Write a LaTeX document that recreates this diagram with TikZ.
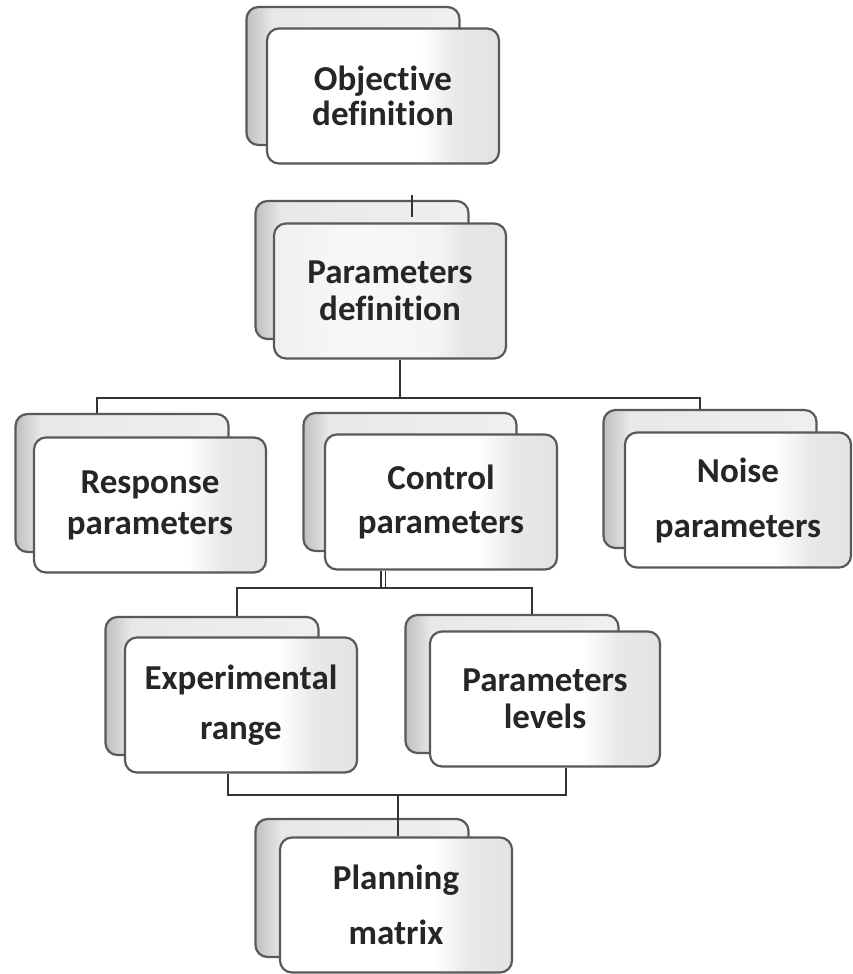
\documentclass[tikz,border=0pt]{standalone}
\usepackage{fontspec}
\setmainfont{Carlito}[Ligatures=NoCommon]
\pgfdeclarehorizontalshading{backshade}{100bp}{color(0bp)=(gray!50); color(25bp)=(gray!50); color(31bp)=(gray!18); color(75bp)=(gray!12); color(100bp)=(gray!12)}
\pgfdeclarehorizontalshading{frontshade}{100bp}{color(0bp)=(white); color(25bp)=(white); color(58bp)=(white); color(66bp)=(gray!18); color(75bp)=(gray!22); color(100bp)=(gray!22)}
\pgfdeclarehorizontalshading{frontshadegray}{100bp}{color(0bp)=(gray!12); color(25bp)=(gray!12); color(40bp)=(gray!6); color(60bp)=(gray!8); color(66bp)=(gray!20); color(100bp)=(gray!20)}
\tikzset{
  backbox/.style={rectangle, rounded corners=12pt, draw=black!65, line width=2.2pt,
    shading=backshade, minimum width=213pt, minimum height=138pt, inner sep=0pt},
  frontbox/.style={rectangle, rounded corners=12pt, draw=black!65, line width=2.2pt,
    shading=frontshade, minimum width=232pt, minimum height=135pt, inner sep=0pt,
    align=center, text=black!85, font=\bfseries\fontsize{35}{35}\selectfont},
  conn/.style={draw=black!80, line width=2pt}
}
\begin{document}
\begin{tikzpicture}[x=1pt, y=-1pt]
    \useasboundingbox (0,0) rectangle (853,974);
    % top
    \node[backbox] (objB) at (353,76) {};
    \node[frontbox] (obj) at (383,96) {Objective\\definition};
    \node[backbox] (parB) at (362,270) {};
    \node[frontbox, shading=frontshadegray] (par) at (390,291) {Parameters\\[2pt]definition};
    \coordinate (tick) at (412,195);
    \draw[conn] (tick) -- ([yshift=5pt]par.north -| tick);
    % three kinds of parameters
    \node[backbox] (resB) at (122,483) {};
    \node[frontbox] (res) at (150,505) {Response\\[6pt]parameters};
    \node[backbox] (conB) at (410,482) {};
    \node[frontbox] (con) at (441,502) {Control\\[9pt]parameters};
    \node[backbox] (noiB) at (710,479) {};
    \node[frontbox, minimum width=226pt] (noi) at (738,500) {Noise\\[20pt]parameters};
    \coordinate (busTop) at (400,398);
    \coordinate (busL) at (97,398);
    \coordinate (busR) at (700,398);
    \draw[conn] (par.south -| busTop) -- (busTop);
    \draw[conn] (resB.north -| busL) |- (busR) -- (noiB.north -| busR);
    % control parameters
    \node[backbox] (expB) at (212,686) {};
    \node[frontbox] (exp) at (241,705) {Experimental\\[15pt]range};
    \node[backbox] (levB) at (512,684) {};
    \node[frontbox, minimum width=230pt] (lev) at (545,699) {Parameters\\[2pt]levels};
    \coordinate (busMid) at (383,588);
    \coordinate (busMidL) at (237,588);
    \coordinate (busMidR) at (532,588);
    \draw[conn, double=white, double distance=3pt, line width=1.4pt] (con.south -| busMid) -- (busMid);
    \draw[conn] (expB.north -| busMidL) |- (busMidR) -- (levB.north -| busMidR);
    % planning matrix
    \node[backbox] (plaB) at (362,888) {};
    \node[frontbox] (pla) at (396,905) {Planning\\[20pt]matrix};
    \coordinate (busBotL) at (228,795);
    \coordinate (busBotR) at (566,795);
    \coordinate (busBot) at (398,795);
    \draw[conn] (exp.south -| busBotL) |- (busBotR) -- (lev.south -| busBotR);
    \draw[conn] (busBot) -- (pla.north -| busBot);
\end{tikzpicture}
\end{document}
